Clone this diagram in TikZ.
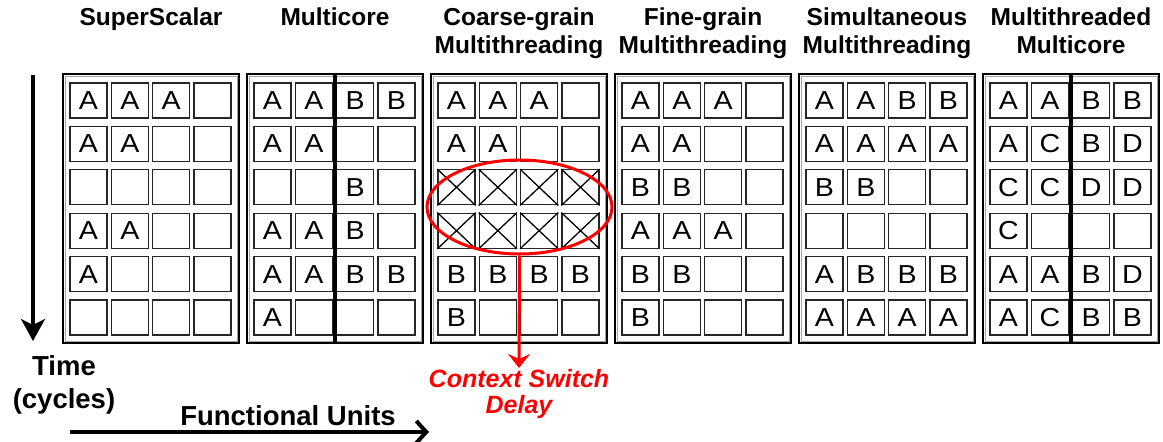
\documentclass[tikz,border=0pt]{standalone}
\usepackage{fontspec}
\setmainfont{Liberation Sans}
\usetikzlibrary{arrows.meta,shapes.geometric}

\tikzset{
  panel/.style={draw, line width=2pt, minimum width=176pt, minimum height=269pt, inner sep=0pt},
  inner/.style={draw=gray!70, line width=0.8pt},
  cell/.style={draw=black!85, line width=1.3pt, minimum width=37pt, minimum height=35pt, inner sep=0pt},
  letter/.style={inner sep=0pt, xscale=1.1, font=\fontsize{26}{28}\selectfont},
  cross/.style={line width=1.3pt},
  divider/.style={line width=4pt},
  title/.style={anchor=north, align=center, inner sep=0pt, font=\fontsize{24.5}{28}\selectfont\bfseries},
  axis/.style={align=center, inner sep=0pt, font=\fontsize{27.5}{33}\selectfont\bfseries},
  delay/.style={align=center, inner sep=1pt, text=red, font=\fontsize{25}{26}\selectfont\bfseries\itshape}
}

\begin{document}
\begin{tikzpicture}[x=1pt,y=-1pt]
\useasboundingbox (0,0) rectangle (1163,442);

\node[title] (t0) at (151,8) {SuperScalar};
\node[title] (t1) at (335,8) {Multicore};
\node[title] (t2) at (519,8) {Coarse-grain\\Multithreading};
\node[title] (t3) at (703,8) {Fine-grain\\Multithreading};
\node[title] (t4) at (887,8) {Simultaneous\\Multithreading};
\node[title] (t5) at (1071,8) {Multithreaded\\Multicore};

% panels with their slot grids
\foreach \p in {0,...,5} {
  \node[panel] (p\p) at ({63+184*\p+88},208.5) {};
  \draw[inner] ([shift={(3,3)}]p\p.north west) rectangle ([shift={(-3,-3)}]p\p.south east);
  \foreach \r in {0,...,5}
    \foreach \c in {0,...,3}
      \node[cell] (c\p\r\c) at ({63+184*\p+25.5+41.33*\c},{100.5+43.4*\r}) {};
}

\draw[divider] (p1.north) -- (p1.south);
\draw[divider] (p5.north) -- (p5.south);

% issued instructions
\foreach \n/\t in {000/A,001/A,002/A,010/A,011/A,030/A,031/A,040/A,
  100/A,101/A,102/B,103/B,110/A,111/A,122/B,130/A,131/A,132/B,140/A,141/A,142/B,143/B,150/A,
  200/A,201/A,202/A,210/A,211/A,240/B,241/B,242/B,243/B,250/B,
  300/A,301/A,302/A,310/A,311/A,320/B,321/B,330/A,331/A,332/A,340/B,341/B,350/B,
  400/A,401/A,402/B,403/B,410/A,411/A,412/A,413/A,420/B,421/B,440/A,441/B,442/B,443/B,450/A,451/A,452/A,453/A,
  500/A,501/A,502/B,503/B,510/A,511/C,512/B,513/D,520/C,521/C,522/D,523/D,530/C,
  540/A,541/A,542/B,543/D,550/A,551/C,552/B,553/B}
  \node[letter] (l\n) at (c\n) {\t};

% lost cycles
\foreach \r in {2,3}
  \foreach \c in {0,...,3}
    \draw[cross] (c2\r\c.north west) -- (c2\r\c.south east)
                 (c2\r\c.north east) -- (c2\r\c.south west);

\node[draw=red, line width=3pt, ellipse, minimum width=185pt, minimum height=94pt] (switch) at (519.5,207) {};
\node[delay, anchor=north] (lag) at (519,368) {Context Switch\\Delay};
\draw[red, line width=3pt, -{Stealth[length=14pt,width=22pt,inset=5pt]}] (switch.south) -- (lag.north);

\node[axis, anchor=north] (time) at (64,355) {Time\\(cycles)};
\coordinate (ttop) at (33,75);
\coordinate (tbot) at (33,341);
\draw[line width=3.5pt, -{Stealth[length=22pt,width=24pt,inset=6pt]}] (ttop) -- (tbot);

\node[axis, anchor=base] (units) at (288,425) {Functional Units};
\coordinate (uleft) at (70,432);
\coordinate (uright) at (429,432);
\draw[line width=4pt, -{Straight Barb[length=10pt,width=22pt]}] (uleft) -- (uright);

\end{tikzpicture}
\end{document}
